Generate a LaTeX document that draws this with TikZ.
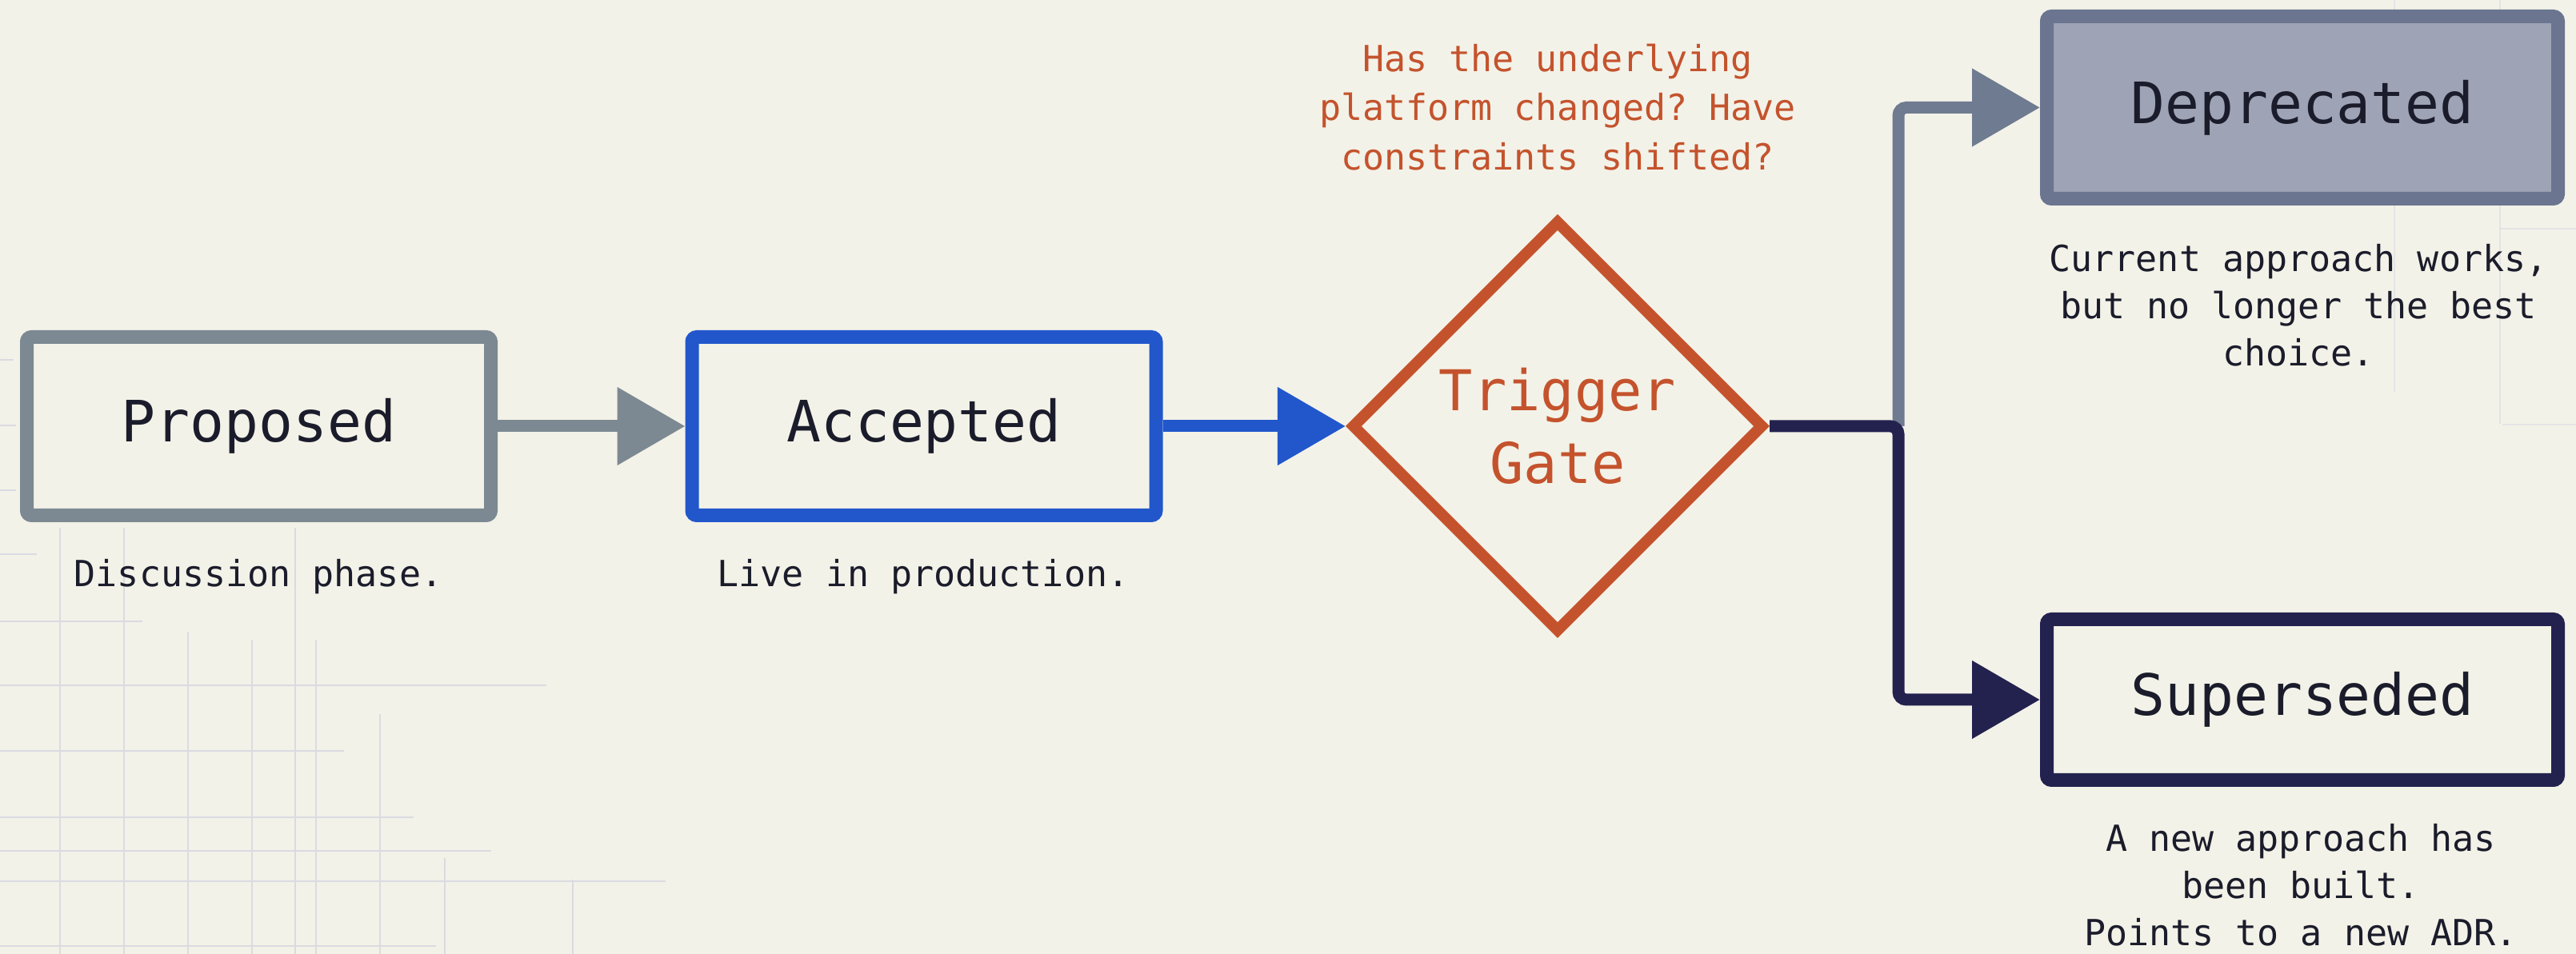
\documentclass[tikz,border=0pt]{standalone}
\usepackage{fontspec}
\setmonofont{DejaVu Sans Mono}
\usetikzlibrary{shapes.geometric,arrows.meta}

\definecolor{paper}{HTML}{F3F2E8}
\definecolor{propgray}{HTML}{7C8992}
\definecolor{accblue}{HTML}{2257CC}
\definecolor{gateorange}{HTML}{C4532D}
\definecolor{depslate}{HTML}{6B7590}
\definecolor{depfill}{HTML}{9EA3B5}
\definecolor{linkslate}{HTML}{6F7B90}
\definecolor{supnavy}{HTML}{23224F}
\definecolor{inkdark}{HTML}{1B1C2B}
\definecolor{gridline}{HTML}{DADAE2}

\begin{document}
\begin{tikzpicture}[font=\ttfamily,
  statebox/.style={draw, line width=1.7mm, rounded corners=0.6mm, minimum width=5.8cm, minimum height=2.23cm, text=inkdark, font=\ttfamily\fontsize{20.3}{24}\selectfont},
  notetext/.style={align=center, text=inkdark, font=\ttfamily\fontsize{12.8}{16.8}\selectfont},
  flowarrow/.style={line width=1.5mm, rounded corners=1mm, -{Triangle[length=8.5mm,width=9.4mm]}},
  gridrule/.style={gridline, line width=0.5pt}]

\fill[paper] (0,0) rectangle (32.2,11.93);
\useasboundingbox (0,0) rectangle (32.2,11.93);

% faint grid, bottom left
\foreach \x/\t in {0.75/5.33, 1.55/5.33, 2.35/4.03, 3.15/3.93, 3.69/5.33, 3.95/3.93, 4.75/3.00, 5.56/1.20, 7.16/0.93}
  \draw[gridrule] (\x,0) -- (\x,\t);
\foreach \y/\e in {7.43/0.17, 6.61/0.20, 5.80/0.20, 5.00/0.46, 4.16/1.78, 3.36/6.83, 2.54/4.30, 1.71/5.17, 1.29/6.14, 0.91/8.32, 0.10/5.45}
  \draw[gridrule] (0,\y) -- (\e,\y);
% and top right
\draw[gridrule, opacity=0.6] (29.93,11.93) -- (29.93,7.03);
\draw[gridrule, opacity=0.6] (31.25,11.93) -- (31.25,6.63);
\draw[gridrule, opacity=0.6] (31.25,9.07) -- (32.2,9.07);
\draw[gridrule, opacity=0.6] (31.28,6.62) -- (32.2,6.62);

\node[statebox, draw=propgray] (proposed) at (3.235,6.60) {Proposed};
\node[statebox, draw=accblue] (accepted) at (11.55,6.60) {Accepted};
\node[diamond, draw=gateorange, line width=1.4mm, minimum width=5.16cm, minimum height=5.16cm, inner sep=0pt, align=center, text=gateorange, font=\ttfamily\fontsize{20}{26}\selectfont] (gate) at (19.47,6.60) {Trigger\\Gate};
\node[statebox, draw=depslate, fill=depfill, minimum width=6.39cm, minimum height=2.28cm] (deprecated) at (28.78,10.585) {Deprecated};
\node[statebox, draw=supnavy, minimum width=6.39cm, minimum height=2.01cm] (superseded) at (28.78,3.18) {Superseded};

\node[notetext] (proposednote) at (3.23,4.72) {Discussion phase.};
\node[notetext] (acceptednote) at (11.54,4.72) {Live in production.};
\node[notetext, text=gateorange, font=\ttfamily\fontsize{12.8}{17.5}\selectfont] (gatequestion) at (19.47,10.59) {Has the underlying\\platform changed? Have\\constraints shifted?};
\node[notetext] (deprecatednote) at (28.73,8.11) {Current approach works,\\but no longer the best\\choice.};
\node[notetext] (supersedednote) at (28.76,0.86) {A new approach has\\been built.\\Points to a new ADR.};

\coordinate (split) at (23.73,6.60);

\draw[flowarrow, propgray] (proposed) -- (accepted);
\draw[flowarrow, accblue] (accepted) -- (gate);
\draw[flowarrow, linkslate] (split) |- (deprecated.west);
\draw[flowarrow, supnavy] (gate.east) -- (split) |- (superseded.west);
\end{tikzpicture}
\end{document}
